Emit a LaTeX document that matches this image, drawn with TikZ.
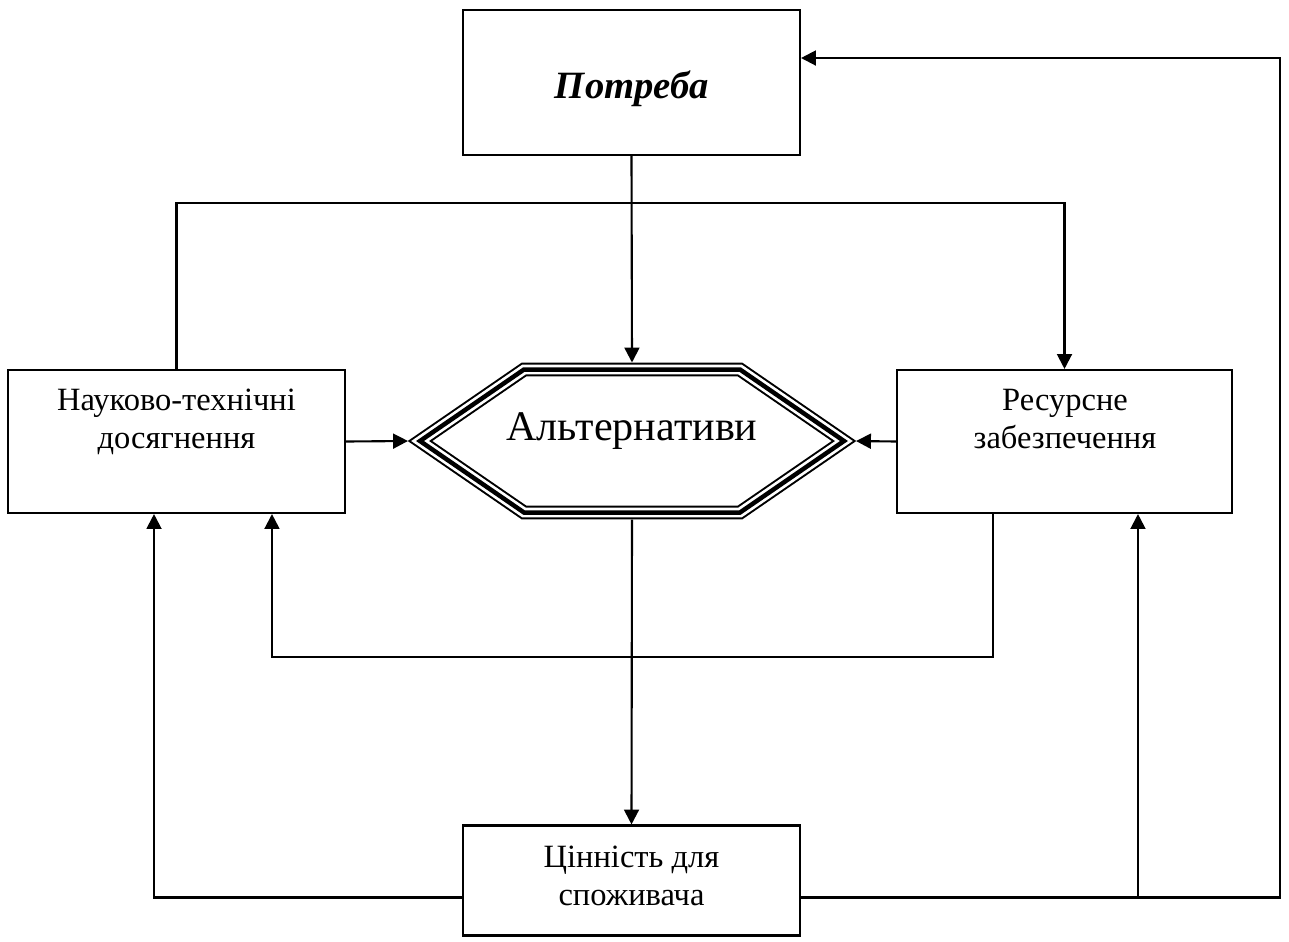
\documentclass[tikz,border=0pt]{standalone}
\usepackage{fontspec}
\setmainfont{Liberation Serif}
\usetikzlibrary{arrows.meta,positioning}

\tikzset{
  box/.style={draw, line width=1.2pt, rectangle, inner sep=0pt, minimum width=6.74cm},
  txt/.style={inner sep=0pt, align=center, font=\fontsize{18.5}{21.5}\selectfont},
  arr/.style={line width=1.2pt, -{Triangle[length=8.5pt,width=8.5pt]}},
}

\begin{document}
\begin{tikzpicture}[x=0.02cm, y=-0.02cm]
  \useasboundingbox (0,0) rectangle (1289,941);

  \node[box, minimum height=2.9cm] (pot) at (631.5,82.5) {};
  \node[box, minimum height=2.86cm] (nauk) at (176.5,441.5) {};
  \node[box, minimum height=2.86cm, minimum width=6.7cm] (res) at (1064.5,441.5) {};
  \node[box, minimum height=2.2cm] (cen) at (631.5,880.5) {};

  \node[txt, anchor=base, font=\fontsize{22}{26}\selectfont\bfseries\itshape] (pot-t) at (632,98) {Потреба};
  \node[txt, anchor=base] (nauk-t) at (176.5,448) {Науково-технічні\\досягнення};
  \node[txt, anchor=base] (res-t) at (1065,448) {Ресурсне\\забезпечення};
  \node[txt, anchor=base] (cen-t) at (631.5,905) {Цінність для\\споживача};

  \draw[line width=7.94pt, line join=miter]
    (420,441) -- (524,369.5) -- (740,369.5) -- (844,441) -- (740,512.5) -- (524,512.5) -- cycle;
  \draw[white, line width=5.67pt, line join=miter]
    (420,441) -- (524,369.5) -- (740,369.5) -- (844,441) -- (740,512.5) -- (524,512.5) -- cycle;
  \draw[line width=2.55pt, line join=miter]
    (420,441) -- (524,369.5) -- (740,369.5) -- (844,441) -- (740,512.5) -- (524,512.5) -- cycle;
  \node[txt, anchor=base, font=\fontsize{24}{28}\selectfont] (alt) at (632,440) {Альтернативи};

  \coordinate (alt-t) at (632,362.5);
  \coordinate (alt-b) at (632,519.5);
  \coordinate (alt-l) at (408,441);
  \coordinate (alt-r) at (856,441);
  \coordinate (topbar) at (0,203);
  \coordinate (lowbar) at (0,657);
  \coordinate (rail) at (1280,0);
  \coordinate (res-out) at ([xshift=-1.43cm]res.south);
  \coordinate (res-in) at ([xshift=1.47cm]res.south);
  \coordinate (nauk-in) at ([xshift=1.91cm]nauk.south);
  \coordinate (nauk-in2) at ([xshift=-0.45cm]nauk.south);
  \coordinate (cen-l) at ([yshift=-0.34cm]cen.west);
  \coordinate (cen-r) at ([yshift=-0.34cm]cen.east);
  \coordinate (pot-in) at ([yshift=0.49cm]pot.east);

  \draw[arr] (pot.south) -- (alt-t);
  \draw[arr] (nauk.north) |- (res.north |- topbar) -- (res.north);
  \draw[arr] (nauk.east) -- (alt-l);
  \draw[arr] (res.west) -- (alt-r);
  \draw[arr] (alt-b) -- (cen.north);
  \draw[arr] (res-out) |- (nauk-in |- lowbar) -- (nauk-in);
  \draw[arr] (cen-l) -| (nauk-in2);
  \draw[arr] (cen-r) -| (rail |- pot-in) -- (pot-in);
  \draw[arr] (res-in |- cen-r) -- (res-in);
\end{tikzpicture}
\end{document}
